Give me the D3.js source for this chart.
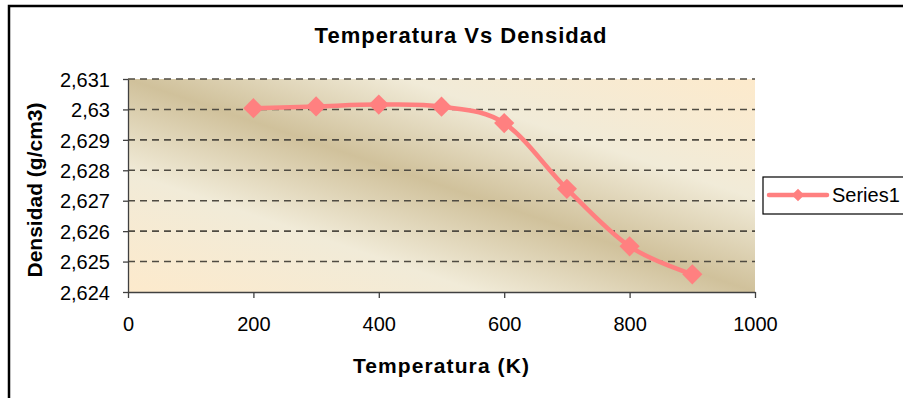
<!DOCTYPE html>
<html>
<head>
<meta charset="utf-8">
<script src="https://cdn.jsdelivr.net/npm/d3@7"></script>
<style>
  html, body { margin: 0; padding: 0; background: #ffffff; }
  svg { display: block; font-family: "Liberation Sans", Arial, sans-serif; }
</style>
</head>
<body>
<svg id="chart" width="903" height="398"></svg>
<script>
// Temperature (K) vs density (g/cm3)
const temperatures = [200, 300, 400, 500, 600, 700, 800, 900];
const densities = [2.63004, 2.63010, 2.63016, 2.63009, 2.62955, 2.62739, 2.62550, 2.62458];
const seriesName = "Series1";

const xTicks = [0, 200, 400, 600, 800, 1000];
const yTicks = [2.624, 2.625, 2.626, 2.627, 2.628, 2.629, 2.630, 2.631];
const yTickLabels = ["2,624", "2,625", "2,626", "2,627", "2,628", "2,629", "2,63", "2,631"];

const titleText = "Temperatura Vs Densidad";
const xTitle = "Temperatura (K)";
const yTitle = "Densidad (g/cm3)";

const svg = d3.select("#chart");
const plot = { left: 128, top: 79, right: 755, bottom: 292 };

const x = d3.scaleLinear().domain([0, 1000]).range([plot.left, plot.right]);
const y = d3.scaleLinear().domain([2.624, 2.631]).range([plot.bottom, plot.top]);

// outer chart frame
svg.append("rect")
  .attr("x", 9).attr("y", 6)
  .attr("width", 1000).attr("height", 500)
  .attr("fill", "#ffffff")
  .attr("stroke", "#000000").attr("stroke-width", 2.5);

// plot area background: diagonal parchment gradient
const defs = svg.append("defs");
const grad = defs.append("linearGradient")
  .attr("id", "parchment")
  .attr("x1", 0).attr("y1", 1).attr("x2", 1).attr("y2", 0);
[
  [0.00, "#fdeacc"],
  [0.28, "#f1ebd8"],
  [0.50, "#d0c19b"],
  [0.72, "#f1ebd8"],
  [1.00, "#fdeacc"]
].forEach(([o, c]) => grad.append("stop").attr("offset", o).attr("stop-color", c));

svg.append("rect")
  .attr("x", plot.left).attr("y", plot.top)
  .attr("width", plot.right - plot.left).attr("height", plot.bottom - plot.top)
  .attr("fill", "url(#parchment)");

// dashed horizontal gridlines
svg.append("g")
  .selectAll("line")
  .data(yTicks.filter(v => v > 2.624))
  .join("line")
  .attr("x1", plot.left).attr("x2", plot.right)
  .attr("y1", d => y(d)).attr("y2", d => y(d))
  .attr("stroke", "#4f4b42").attr("stroke-width", 1.6)
  .attr("stroke-dasharray", "7,5");

// axes
const xAxis = svg.append("g")
  .attr("transform", `translate(0,${plot.bottom})`)
  .call(d3.axisBottom(x).tickValues(xTicks).tickSize(6).tickSizeOuter(0).tickPadding(19)
    .tickFormat(d3.format("d")));
const yAxis = svg.append("g")
  .attr("transform", `translate(${plot.left},0)`)
  .call(d3.axisLeft(y).tickValues(yTicks).tickSize(5).tickSizeOuter(0).tickPadding(13)
    .tickFormat((d, i) => yTickLabels[i]));

[xAxis, yAxis].forEach(g => {
  g.select(".domain").attr("stroke", "#404040").attr("stroke-width", 1.3);
  g.selectAll(".tick line").attr("stroke", "#404040").attr("stroke-width", 1.3);
  g.selectAll(".tick text")
    .attr("fill", "#000000")
    .style("font-family", "'Liberation Sans', Arial, sans-serif")
    .style("font-size", "20px");
});
xAxis.selectAll(".tick text").attr("dy", "0.71em");
yAxis.selectAll(".tick text").attr("dy", "0.36em");

// series line (smoothed) and diamond markers
const pts = temperatures.map((t, i) => [t, densities[i]]);
const color = "#ff8080";

svg.append("path")
  .datum(pts)
  .attr("fill", "none")
  .attr("stroke", color)
  .attr("stroke-width", 4.5)
  .attr("stroke-linejoin", "round")
  .attr("d", d3.line().x(d => x(d[0])).y(d => y(d[1])).curve(d3.curveCardinal.tension(0)));

const diamond = d3.symbol().type(d3.symbolDiamond2).size(260);
svg.append("g")
  .selectAll("path")
  .data(pts)
  .join("path")
  .attr("transform", d => `translate(${x(d[0])},${y(d[1])})`)
  .attr("d", diamond)
  .attr("fill", color);

// titles
svg.append("text")
  .attr("x", 461).attr("y", 43)
  .attr("text-anchor", "middle")
  .style("font-size", "22px").style("font-weight", "bold")
  .style("letter-spacing", "1px")
  .text(titleText);

svg.append("text")
  .attr("x", (plot.left + plot.right) / 2).attr("y", 373)
  .attr("text-anchor", "middle")
  .style("font-size", "21px").style("font-weight", "bold")
  .style("letter-spacing", "1.1px")
  .text(xTitle);

svg.append("text")
  .attr("transform", `translate(42,190) rotate(-90)`)
  .attr("text-anchor", "middle")
  .style("font-size", "21px").style("font-weight", "bold")
  .text(yTitle);

// legend
const lg = svg.append("g");
lg.append("rect")
  .attr("x", 763).attr("y", 177)
  .attr("width", 200).attr("height", 37)
  .attr("fill", "#ffffff")
  .attr("stroke", "#000000").attr("stroke-width", 1.2);
lg.append("line")
  .attr("x1", 769).attr("x2", 827).attr("y1", 195).attr("y2", 195)
  .attr("stroke", color).attr("stroke-width", 4.5).attr("stroke-linecap", "round");
lg.append("path")
  .attr("transform", "translate(798,195)")
  .attr("d", d3.symbol().type(d3.symbolDiamond2).size(100))
  .attr("fill", color);
lg.append("text")
  .attr("x", 832).attr("y", 202)
  .style("font-size", "20px")
  .text(seriesName);
</script>
</body>
</html>
